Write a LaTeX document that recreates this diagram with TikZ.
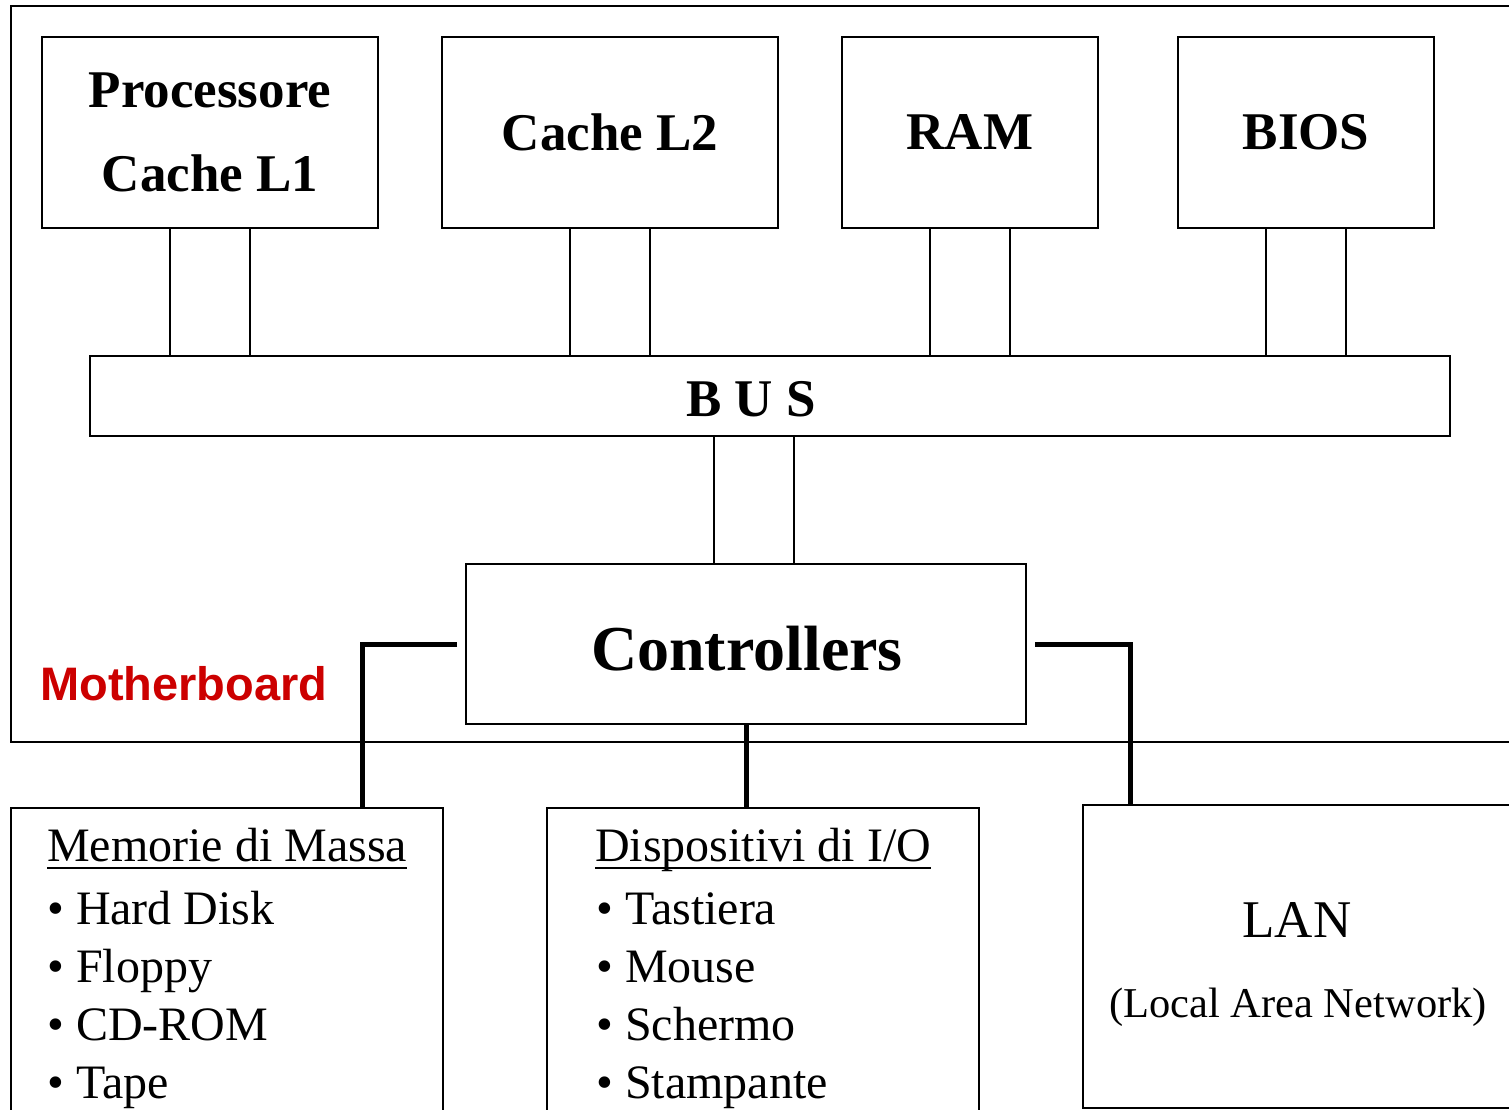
\documentclass[tikz,border=0pt]{standalone}
\usepackage{fontspec}
\setmainfont{Liberation Serif}
\newfontfamily\boardfont{Liberation Sans}
\newcommand{\listhead}[1]{\vtop{\hbox{\smash{#1}}\kern5.5pt\hrule height 2.5pt}}
\usetikzlibrary{calc}
\definecolor{boardred}{RGB}{204,0,0}
\tikzset{
    unit/.style={draw, line width=2pt, align=center, font=\fontsize{53}{84}\selectfont\bfseries},
    device/.style={draw, line width=2pt, anchor=north west},
    wire/.style={line width=2pt},
    link/.style={line width=5pt},
    entry/.style={anchor=base west, inner sep=0pt, font=\fontsize{48}{58}\selectfont}
}
\begin{document}
\begin{tikzpicture}[x=1pt, y=-1pt]
    \useasboundingbox (0,0) rectangle (1509,1109);
    \clip (0,0) rectangle (1509,1109);
    \node[device, minimum width=1540pt, minimum height=736pt] (board) at (10,5) {};
    \node[anchor=base west, inner sep=0pt, text=boardred, font=\boardfont\fontsize{47}{47}\selectfont\bfseries] (boardname) at (40,700) {Motherboard};
    \node[unit, minimum width=336pt, minimum height=191pt] (cpu) at (210,132.5) {Processore\\Cache L1};
    \node[unit, minimum width=336pt, minimum height=191pt] (cache) at (610,132.5) {Cache L2};
    \node[unit, minimum width=256pt, minimum height=191pt] (ram) at (970,132.5) {RAM};
    \node[unit, minimum width=256pt, minimum height=191pt] (bios) at (1306,132.5) {BIOS};
    \node[unit, minimum width=1360pt, minimum height=80pt] (bus) at (770,396) {};
    \node[unit, draw=none] (busname) at ($(bus.center)+(-19,3)$) {B U S};
    \node[unit, minimum width=560pt, minimum height=160pt] (ctrl) at (746,644) {};
    \node[unit, draw=none, font=\fontsize{64}{64}\selectfont\bfseries] (ctrlname) at ($(ctrl.center)+(1,5)$) {Controllers};
    \foreach \n in {cpu, cache, ram, bios}
        \foreach \dx in {-40, 40}
            \draw[wire] ($(\n.south)+(\dx,0)$) -- ($(\n.south |- bus.north)+(\dx,0)$);
    \foreach \dx in {-32, 48}
        \draw[wire] ($(ctrl.north)+(\dx,0)$) -- ($(ctrl.north |- bus.south)+(\dx,0)$);
    \node[device, minimum width=432pt, minimum height=340pt] (mass) at (10,807) {};
    \node[device, minimum width=432pt, minimum height=340pt] (io) at (546,807) {};
    \node[device, minimum width=460pt, minimum height=303pt] (lan) at (1082,804) {};
    \draw[link] ($(ctrl.west)+(-8,0)$) -| ($(mass.north west)+(352,0)$);
    \draw[link] (ctrl.south) -- (ctrl.south |- io.north);
    \draw[link] ($(ctrl.east)+(8,0)$) -| ($(lan.north west)+(48,0)$);
    \node[entry] (masshead) at ($(mass.north west)+(37,54)$) {\listhead{Memorie di Massa}};
    \foreach \thing [count=\i] in {Hard Disk, Floppy, CD-ROM, Tape}
        \node[entry] (mass\i) at ($(mass.north west)+(37,{59+58*\i})$) {\textbullet\ \thing};
    \node[entry] (iohead) at ($(io.north west)+(49,54)$) {\listhead{Dispositivi di I/O}};
    \foreach \thing [count=\i] in {Tastiera, Mouse, Schermo, Stampante}
        \node[entry] (io\i) at ($(io.north west)+(50,{59+58*\i})$) {\textbullet\ \thing};
    \node[anchor=base, inner sep=0pt, font=\fontsize{53}{53}\selectfont] (lanname) at ($(lan.north west)+(215,133)$) {LAN};
    \node[anchor=base, inner sep=0pt, font=\fontsize{42.5}{42.5}\selectfont] (lanlong) at ($(lan.north west)+(216,213)$) {(Local Area Network)};
\end{tikzpicture}
\end{document}
